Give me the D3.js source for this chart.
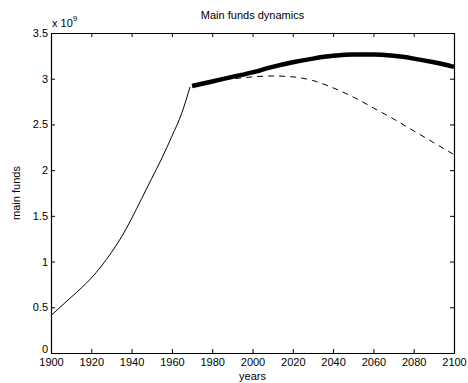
<!DOCTYPE html>
<html><head><meta charset="utf-8">
<script src="https://cdn.jsdelivr.net/npm/d3@7"></script>
<style>body{margin:0;background:#fff}svg{display:block}text{font-family:"Liberation Sans",Arial,sans-serif;fill:#000}</style>
</head><body>
<svg id="c" width="468" height="383"></svg>
<script>
const histYears = [1900,1905,1910,1915,1920,1925,1930,1935,1940,1945,1950,1955,1960,1965,1969];
const histValues = [0.41,0.51,0.61,0.71,0.82,0.95,1.10,1.27,1.47,1.69,1.91,2.13,2.37,2.63,2.91];
const projYears = [1970,1980,1990,2000,2010,2020,2030,2040,2050,2060,2070,2080,2090,2100];
const thickValues = [2.92,2.97,3.02,3.07,3.13,3.18,3.22,3.25,3.265,3.265,3.25,3.22,3.18,3.13];
const dashYears = [1970,1980,1985,1990,2000,2010,2020,2030,2040,2050,2060,2070,2080,2090,2100];
const dashValues = [2.92,2.97,2.995,3.00,3.02,3.03,3.02,2.98,2.90,2.80,2.68,2.56,2.43,2.30,2.17];
const xTicks = [1900,1920,1940,1960,1980,2000,2020,2040,2060,2080,2100];
const yTicks = [0,0.5,1,1.5,2,2.5,3,3.5];

const svg = d3.select("#c");
const L=51,R=454,T=33,B=353;
const x = d3.scaleLinear().domain([1900,2100]).range([L,R]);
const y = d3.scaleLinear().domain([0,3.5]).range([B,T]);
const fs = 11;

const gB = svg.append("g").attr("transform",`translate(0,${B})`)
  .call(d3.axisBottom(x).tickValues(xTicks).tickFormat(d3.format("d")).tickSizeInner(-4).tickSizeOuter(0).tickPadding(5));
const gT = svg.append("g").attr("transform",`translate(0,${T})`)
  .call(d3.axisTop(x).tickValues(xTicks).tickFormat("").tickSizeInner(-4).tickSizeOuter(0));
const gL = svg.append("g").attr("transform",`translate(${L},0)`)
  .call(d3.axisLeft(y).tickValues(yTicks).tickFormat(d=>String(d)).tickSizeInner(-4).tickSizeOuter(0).tickPadding(3));
const gR = svg.append("g").attr("transform",`translate(${R},0)`)
  .call(d3.axisRight(y).tickValues(yTicks).tickFormat("").tickSizeInner(-4).tickSizeOuter(0));
[gB,gT,gL,gR].forEach(g=>{
  g.select(".domain").attr("stroke","#000").attr("stroke-width",1.2);
  g.selectAll(".tick line").attr("stroke","#000");
  g.selectAll("text").attr("font-size",fs).attr("font-family","Liberation Sans, Arial, sans-serif").attr("fill","#000");
});
// lift the "0" label like the reference so it clears the year labels
gL.selectAll(".tick").filter(d=>d===0).select("text").attr("dy","-0.05em");

const line = d3.line().x(d=>x(d[0])).y(d=>y(d[1])).curve(d3.curveMonotoneX);
svg.append("path").datum(histYears.map((d,i)=>[d,histValues[i]]))
  .attr("d",line).attr("fill","none").attr("stroke","#000").attr("stroke-width",1);
svg.append("path").datum(dashYears.map((d,i)=>[d,dashValues[i]]))
  .attr("d",line).attr("fill","none").attr("stroke","#000").attr("stroke-width",1).attr("stroke-dasharray","6,5");
svg.append("path").datum(projYears.map((d,i)=>[d,thickValues[i]]))
  .attr("d",line).attr("fill","none").attr("stroke","#000").attr("stroke-width",4.5);

svg.append("text").attr("x",(L+R)/2).attr("y",19).attr("text-anchor","middle").attr("font-size",fs).text("Main funds dynamics");
svg.append("text").attr("x",(L+R)/2).attr("y",380).attr("text-anchor","middle").attr("font-size",fs).text("years");
svg.append("text").attr("transform",`translate(20,${(T+B)/2}) rotate(-90)`).attr("text-anchor","middle").attr("font-size",fs).text("main funds");
const ex = svg.append("text").attr("x",52).attr("y",27).attr("font-size",fs);
ex.append("tspan").text("x 10");
ex.append("tspan").attr("dy",-6).attr("font-size",8).text("9");
</script>
</body></html>
